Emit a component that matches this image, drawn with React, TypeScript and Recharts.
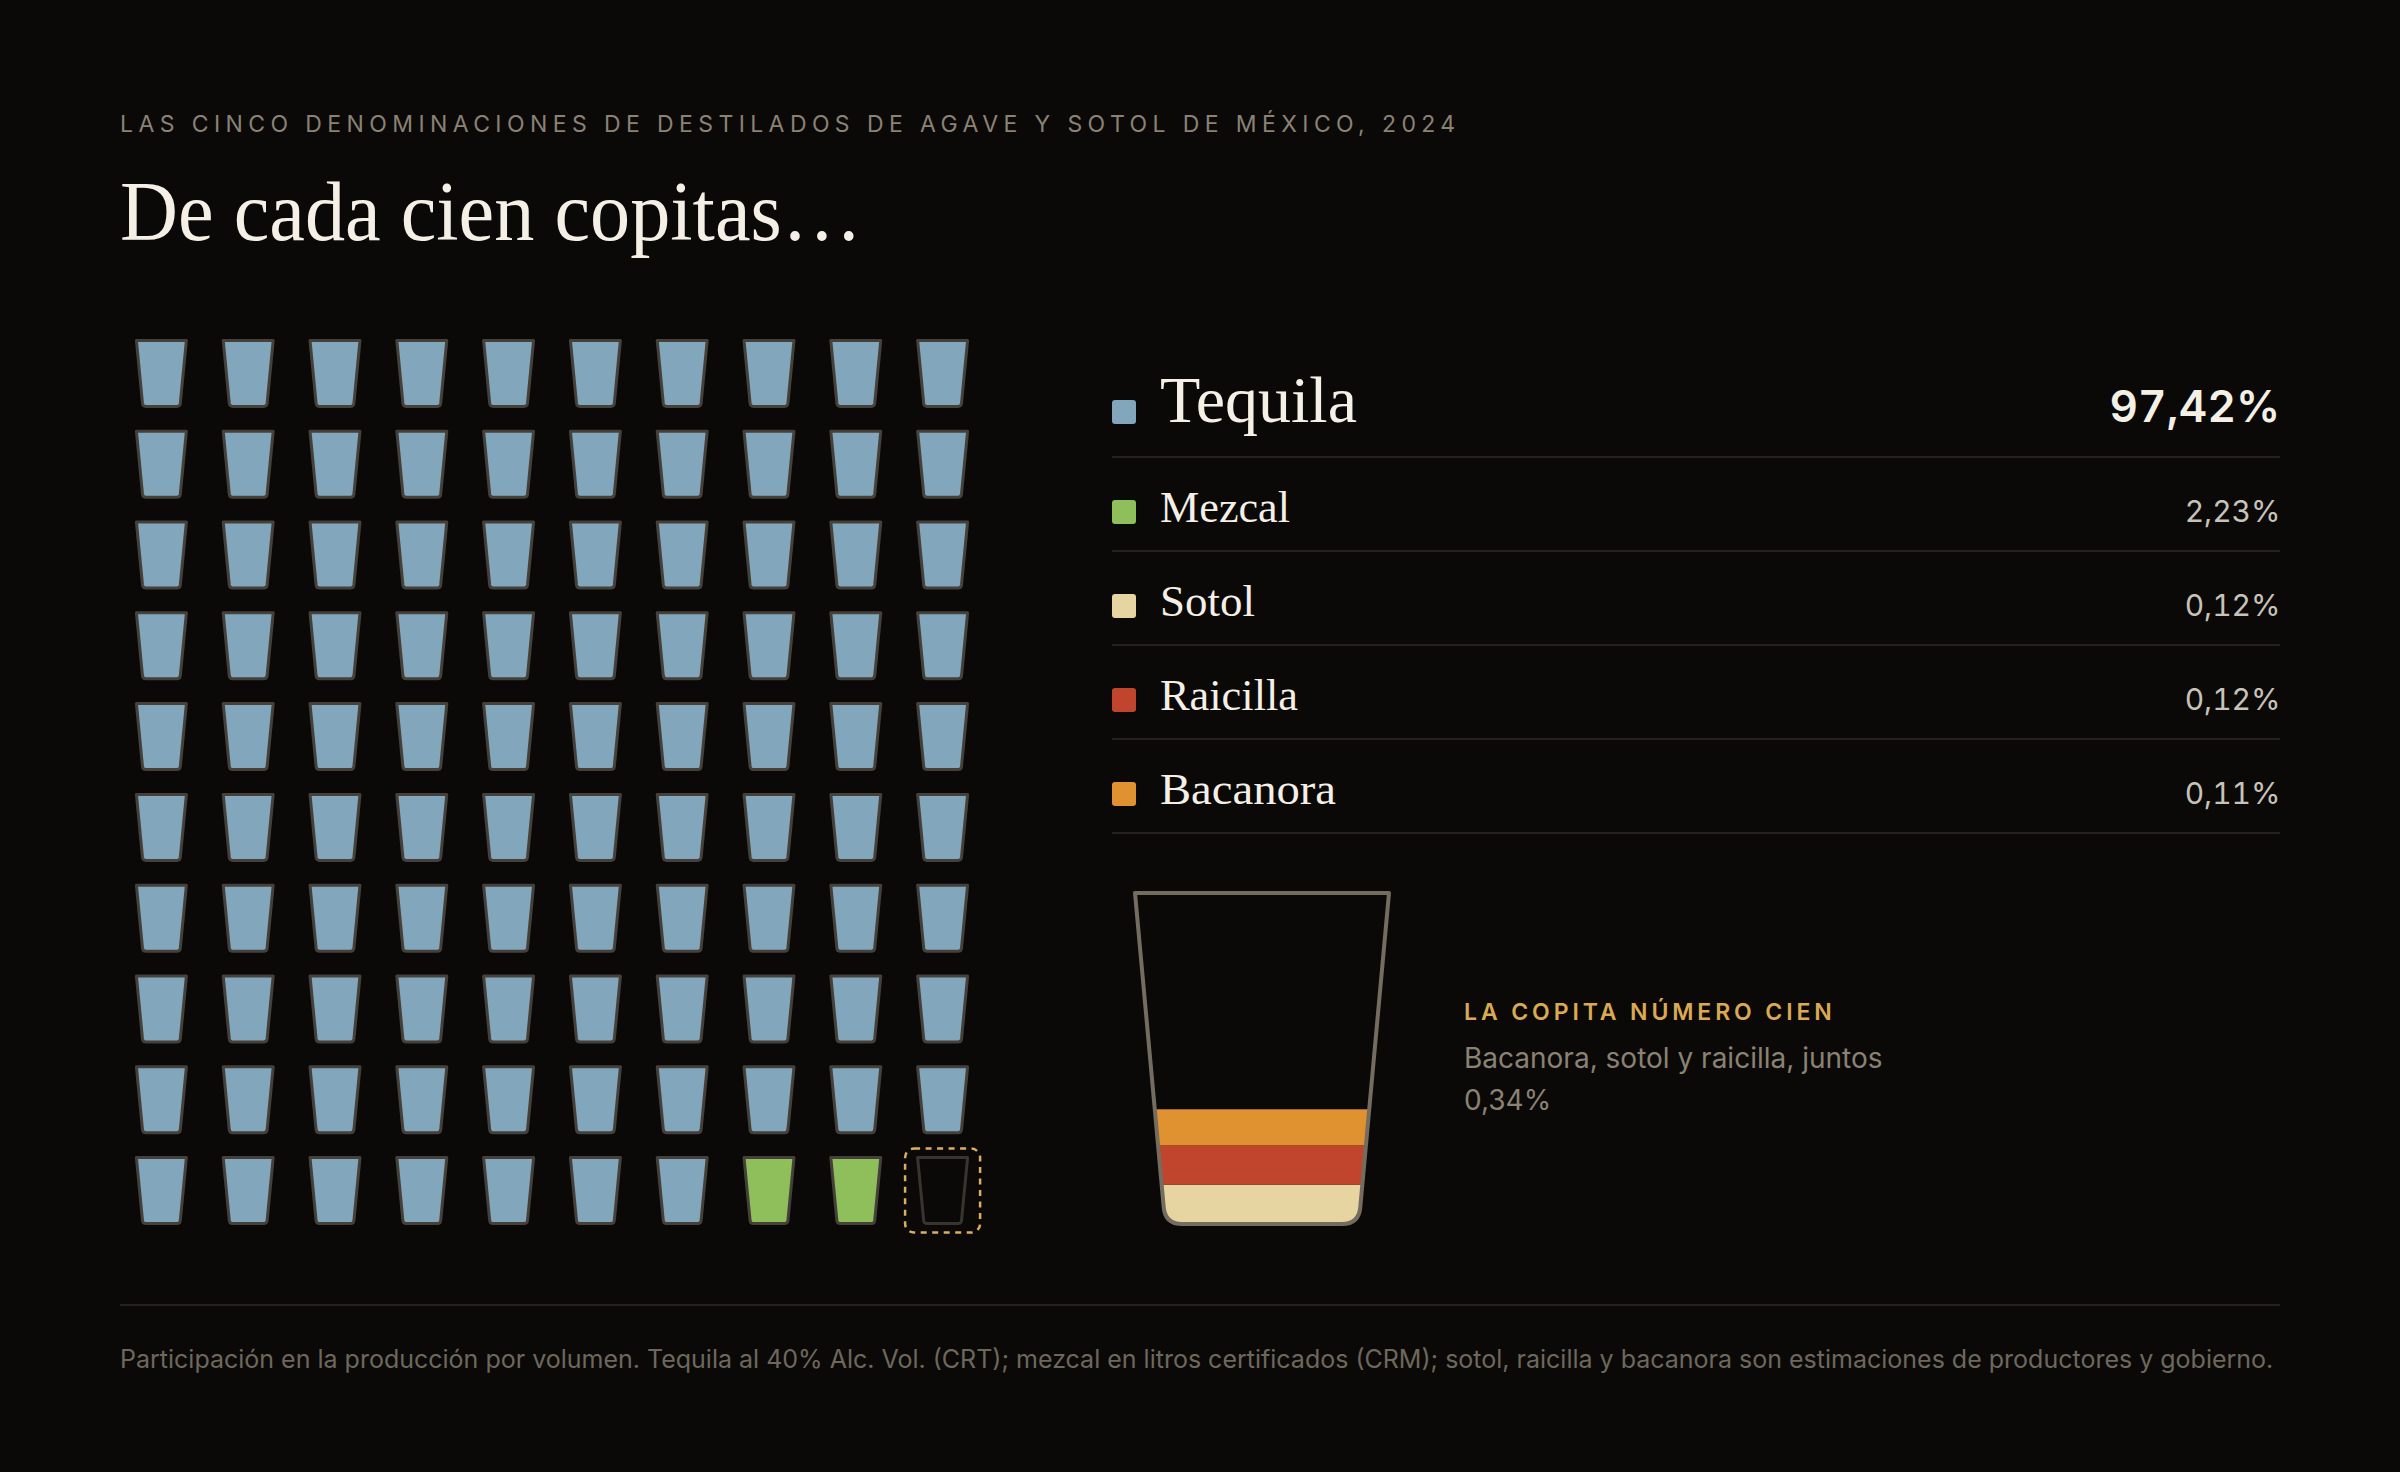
import { Bar, BarChart, Scatter, ScatterChart, XAxis, YAxis, ZAxis } from 'recharts'

const BG = '#0a0908'
const INK = '#f5f0e6'
const SANS = 'Inter, sans-serif'
const SERIF = '"Liberation Serif", serif'

// share of production, as printed
const names = ['Tequila', 'Mezcal', 'Sotol', 'Raicilla', 'Bacanora']
const labels = ['97,42%', '2,23%', '0,12%', '0,12%', '0,11%']
const swatches = ['#82a7bc', '#8fbf5a', '#e6d5a0', '#c0452c', '#e09230']

// the waffle: how many of the hundred cups each kind fills, the last one is left empty
const cupKinds = ['Tequila', 'Mezcal', 'Empty']
const cupCounts = [97, 2, 1]
const cupFills = ['#82a7bc', '#8fbf5a', 'none']

// the big glass, bottom to top
const layerNames = ['Sotol', 'Raicilla', 'Bacanora']
const layerValues = [0.12, 0.12, 0.11]
const layerFills = ['#e6d5a0', '#c0452c', '#e09230']
const glassTop = 1.01

const cups = cupKinds.flatMap((kind, k) => Array.from({ length: cupCounts[k] }, () => kind)).map((kind, i) => ({
  col: i % 10,
  row: Math.floor(i / 10),
  kind,
}))

const glassRow: Record<string, number | string> = { name: 'copita', vaso: glassTop }
layerNames.forEach((n, i) => {
  glassRow[n] = layerValues[i]
})

function Cup(props: any) {
  const { cx, cy, payload } = props
  const w = 50
  const b = 37
  const h = 66
  const top = cy - h / 2
  const bot = cy + h / 2
  const d = `M${cx - w / 2} ${top}L${cx + w / 2} ${top}L${cx + b / 2 + 0.4} ${bot - 3}Q${cx + b / 2} ${bot} ${cx + b / 2 - 3} ${bot}L${cx - b / 2 + 3} ${bot}Q${cx - b / 2} ${bot} ${cx - b / 2 - 0.4} ${bot - 3}Z`
  const empty = payload.kind === 'Empty'
  return (
    <g>
      <path
        d={d}
        fill={cupFills[cupKinds.indexOf(payload.kind)]}
        stroke={empty ? '#38342e' : '#45413a'}
        strokeWidth={3}
        strokeLinejoin="round"
      />
      {empty && (
        <rect
          x={cx - 37.5}
          y={cy - 42}
          width={75}
          height={84}
          rx={9}
          fill="none"
          stroke="#dcae62"
          strokeWidth={2.5}
          strokeDasharray="6 5.5"
        />
      )}
    </g>
  )
}

function glassPath(x: number, y: number, w: number, h: number) {
  const inset = 30
  const r = 17
  const l = x + inset
  const rr = x + w - inset
  const bot = y + h
  return `M${x} ${y}L${x + w} ${y}L${rr + 1.3} ${bot - r}Q${rr} ${bot} ${rr - r} ${bot}L${l + r} ${bot}Q${l} ${bot} ${l - 1.3} ${bot - r}Z`
}

function GlassLayer(props: any) {
  const { x, y, width, height, fill } = props
  return <rect x={x} y={y} width={width} height={height} fill={fill} clipPath="url(#vaso)" />
}

function Glass(props: any) {
  const { x, y, width, height } = props
  const d = glassPath(x, y, width, height)
  return (
    <g>
      <clipPath id="vaso">
        <path d={d} />
      </clipPath>
      <path d={d} fill="none" stroke="#736c5f" strokeWidth={4} strokeLinejoin="round" />
    </g>
  )
}

const rowBase = [422, 522, 616, 710, 804]
const rules = [457, 551, 645, 739, 833]
const nameWidths = [197, 130, 95, 138, 176]

export default function App() {
  return (
    <div style={{ position: 'absolute', left: 0, top: 0, width: 2400, height: 1472, background: BG, overflow: 'hidden' }}>
      <svg width={2400} height={1472} style={{ position: 'absolute', left: 0, top: 0 }}>
        <text x={120} y={132} fontFamily={SANS} fontSize={23} letterSpacing={5.4} fill="#8a8274">
          LAS CINCO DENOMINACIONES DE DESTILADOS DE AGAVE Y SOTOL DE MÉXICO, 2024
        </text>
        <text x={120} y={240} fontFamily={SERIF} fontSize={84} fill={INK} textLength={742} lengthAdjust="spacingAndGlyphs">
          De cada cien copitas…
        </text>

        {names.map((n, i) => (
          <g key={n}>
            <rect x={1112} y={rowBase[i] - 22} width={24} height={24} rx={3} fill={swatches[i]} />
            <text
              x={1160}
              y={rowBase[i]}
              fontFamily={SERIF}
              fontSize={i === 0 ? 66 : 45}
              fill={INK}
              textLength={nameWidths[i]}
              lengthAdjust="spacingAndGlyphs"
            >
              {n}
            </text>
            <text
              x={i === 0 ? 2280.5 : 2280.5}
              y={rowBase[i]}
              textAnchor="end"
              fontFamily={SANS}
              fontSize={i === 0 ? 44 : 30}
              fontWeight={i === 0 ? 600 : 400}
              letterSpacing={i === 0 ? 0.2 : 0}
              fill={i === 0 ? INK : '#c8c3b8'}
              style={{ fontVariantNumeric: 'tabular-nums' }}
            >
              {labels[i]}
            </text>
            <line x1={1112} x2={2280} y1={rules[i]} y2={rules[i]} stroke="#25211c" strokeWidth={2} />
          </g>
        ))}

        <text x={1464} y={1020} fontFamily={SANS} fontSize={23} fontWeight={600} letterSpacing={3.9} fill="#dba951">
          LA COPITA NÚMERO CIEN
        </text>
        <text x={1464} y={1068} fontFamily={SANS} fontSize={28} fill="#8a8272">
          Bacanora, sotol y raicilla, juntos
        </text>
        <text x={1464} y={1110} fontFamily={SANS} fontSize={28} fill="#8a8272">
          0,34%
        </text>

        <line x1={120} x2={2280} y1={1305} y2={1305} stroke="#25211c" strokeWidth={2} />
        <text x={120} y={1368} fontFamily={SANS} fontSize={25} fill="#6e685c">
          Participación en la producción por volumen. Tequila al 40% Alc. Vol. (CRT); mezcal en litros certificados (CRM); sotol, raicilla y bacanora son estimaciones de productores y gobierno.
        </text>
      </svg>

      <div style={{ position: 'absolute', left: 118, top: 328 }}>
        <ScatterChart width={868} height={908} margin={{ top: 0, right: 0, bottom: 0, left: 0 }}>
          <XAxis type="number" dataKey="col" domain={[-0.5, 9.5]} hide />
          <YAxis type="number" dataKey="row" domain={[-0.5, 9.5]} reversed hide />
          <ZAxis range={[100, 100]} />
          <Scatter data={cups} shape={<Cup />} isAnimationActive={false} />
        </ScatterChart>
      </div>

      <div style={{ position: 'absolute', left: 1125, top: 883 }}>
        <BarChart
          width={274}
          height={351}
          data={[glassRow]}
          barCategoryGap={0}
          margin={{ top: 10, right: 10, bottom: 10, left: 10 }}
        >
          <XAxis dataKey="name" hide />
          <XAxis dataKey="name" xAxisId="glass" hide />
          <YAxis domain={[0, glassTop]} hide />
          {layerNames.map((n, i) => (
            <Bar key={n} dataKey={n} stackId="capas" fill={layerFills[i]} shape={<GlassLayer />} isAnimationActive={false} />
          ))}
          <Bar dataKey="vaso" xAxisId="glass" shape={<Glass />} isAnimationActive={false} />
        </BarChart>
      </div>
    </div>
  )
}
